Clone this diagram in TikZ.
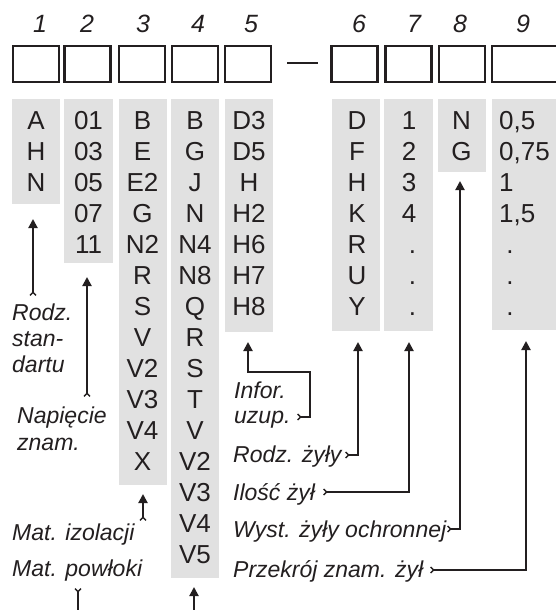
\documentclass[tikz,border=0pt]{standalone}
\usepackage{fontspec}
\setmainfont{Liberation Sans}
\usetikzlibrary{arrows.meta}
\definecolor{ink}{HTML}{231F20}
\definecolor{shade}{HTML}{E1E1E1}
\begin{document}
\begin{tikzpicture}[x=1pt,y=-1pt,
  codebox/.style={draw=ink, line width=2.6pt, inner sep=0pt, minimum height=36pt},
  shadecol/.style={fill=shade, inner sep=0pt, anchor=north west},
  item/.style={font=\fontsize{26}{31}\selectfont, text=ink, inner sep=0pt, anchor=base},
  itemw/.style={font=\fontsize{26}{31}\selectfont, text=ink, inner sep=0pt, anchor=base west},
  num/.style={font=\fontsize{25}{30}\selectfont\itshape, text=ink, inner sep=0pt, anchor=base},
  lab/.style={font=\fontsize{23}{27}\selectfont\itshape, text=ink, inner sep=0pt, anchor=base west},
  conn/.style={draw=ink, line width=2pt, line join=miter,
    {Straight Barb[reversed,length=3pt,width=6pt,line width=1.3pt]}-{Triangle[length=9pt,width=9pt]}},
  tailonly/.style={draw=ink, line width=2pt,
    {Straight Barb[reversed,length=3pt,width=6pt,line width=1.3pt]}-},
  headonly/.style={draw=ink, line width=2pt, -{Triangle[length=9pt,width=9pt]}},
]
\useasboundingbox (0,0) rectangle (556,610);
\fill[white] (0,0) rectangle (556,610);
\clip (0,0) rectangle (556,610);

% position numbers
\foreach \n/\x in {1/40,2/87,3/143,4/198,5/251,6/359,7/414,8/460,9/523}
  \node[num] (n\n) at (\x,33) {\n};

% code boxes
\foreach \n/\x/\w in {1/36/46,2/87.5/46,3/142/46,4/195/46,5/248/46,6/354.5/46,7/408.5/46,8/462/46,9/526/68}
  \node[codebox, minimum width=\w pt] (b\n) at (\x,64) {};
\draw[ink, line width=2.8pt] (287,63) -- (318,63);

% shaded columns
\node[shadecol, minimum width=48.5pt, minimum height=105.5pt] (g1) at (11.5,98.5) {};
\node[shadecol, minimum width=49pt, minimum height=164.5pt] (g2) at (64,98.5) {};
\node[shadecol, minimum width=47.5pt, minimum height=386.5pt] (g3) at (119,98.5) {};
\node[shadecol, minimum width=48pt, minimum height=479.5pt] (g4) at (171,98.5) {};
\node[shadecol, minimum width=48pt, minimum height=233.5pt] (g5) at (225,98.5) {};
\node[shadecol, minimum width=48pt, minimum height=232.5pt] (g6) at (332,98.5) {};
\node[shadecol, minimum width=49pt, minimum height=232.5pt] (g7) at (384,98.5) {};
\node[shadecol, minimum width=48pt, minimum height=73.5pt] (g8) at (438,98.5) {};
\node[shadecol, minimum width=80pt, minimum height=231.5pt] (g9) at (492,98.5) {};

% column entries
\foreach \t [count=\i] in {A,H,N}
  \node[item] (c1-\i) at (36,{98.5+31*\i}) {\t};
\foreach \t [count=\i] in {01,03,05,07,11}
  \node[item] (c2-\i) at (88.5,{98.5+31*\i}) {\t};
\foreach \t [count=\i] in {B,E,E2,G,N2,R,S,V,V2,V3,V4,X}
  \node[item] (c3-\i) at (142.5,{98.5+31*\i}) {\t};
\foreach \t [count=\i] in {B,G,J,N,N4,N8,Q,R,S,T,V,V2,V3,V4,V5}
  \node[item] (c4-\i) at (195,{98.5+31*\i}) {\t};
\foreach \t [count=\i] in {D3,D5,H,H2,H6,H7,H8}
  \node[item] (c5-\i) at (249,{98.5+31*\i}) {\t};
\foreach \t [count=\i] in {D,F,H,K,R,U,Y}
  \node[item] (c6-\i) at (357,{98.5+31*\i}) {\t};
\foreach \t [count=\i] in {1,2,3,4}
  \node[item] (c7-\i) at (409,{98.5+31*\i}) {\t};
\foreach \i in {5,6,7}
  \node[item] (c7-\i) at (412.5,{98.5+31*\i}) {.};
\foreach \t [count=\i] in {N,G}
  \node[item] (c8-\i) at (461.5,{98.5+31*\i}) {\t};
\foreach \t [count=\i] in {{0,5},{0,75},1,{1,5}}
  \node[itemw] (c9-\i) at (499,{98.5+31*\i}) {\t};
\foreach \i in {5,6,7}
  \node[item] (c9-\i) at (510,{98.5+31*\i}) {.};

% labels
\node[lab] (l1a) at (12,320) {Rodz.};
\node[lab] (l1b) at (12,346) {stan-};
\node[lab] (l1c) at (12,372) {dartu};
\node[lab] (l2a) at (17,423) {Napięcie};
\node[lab] (l2b) at (17,450) {znam.};
\node[lab] (l3) at (12,540) {Mat. izolacji};
\node[lab] (l4) at (12,576) {Mat. powłoki};
\node[lab] (l5a) at (234,398) {Infor.};
\node[lab] (l5b) at (234,423) {uzup.};
\node[lab] (l6) at (233,462) {Rodz. żyły};
\node[lab] (l7) at (233,500) {Ilość żył};
\node[lab] (l8) at (233,537) {Wyst. żyły ochronnej};
\node[lab] (l9) at (233,577) {Przekrój znam. żył};

% connector points
\coordinate (s1) at (33,296);  \coordinate (e1) at (33,219);
\coordinate (s2) at (87,397);  \coordinate (e2) at (87,277);
\coordinate (s3) at (143,521); \coordinate (e3) at (143,494);
\coordinate (s4) at (194,618); \coordinate (e4) at (194,587);
\coordinate (s4b) at (78,588); \coordinate (e4b) at (78,618);
\coordinate (s5) at (297,417); \coordinate (k5a) at (310,417);
\coordinate (k5b) at (310,372); \coordinate (k5c) at (248,372);
\coordinate (e5) at (248,342);
\coordinate (s6) at (345,455); \coordinate (k6) at (358,455); \coordinate (e6) at (358,342);
\coordinate (s7) at (323,492); \coordinate (k7) at (409,492); \coordinate (e7) at (409,342);
\coordinate (s8) at (447,529); \coordinate (k8) at (460,529); \coordinate (e8) at (460,181);
\coordinate (s9) at (430,570); \coordinate (k9) at (526,570); \coordinate (e9) at (526,341);

\draw[conn] (s1) -- (e1);
\draw[conn] (s2) -- (e2);
\draw[conn] (s3) -- (e3);
\draw[headonly] (s4) -- (e4);
\draw[tailonly] (s4b) -- (e4b);
\draw[conn] (s5) -- (k5a) -- (k5b) -- (k5c) -- (e5);
\draw[conn] (s6) -- (k6) -- (e6);
\draw[conn] (s7) -- (k7) -- (e7);
\draw[conn] (s8) -- (k8) -- (e8);
\draw[conn] (s9) -- (k9) -- (e9);
\end{tikzpicture}
\end{document}
